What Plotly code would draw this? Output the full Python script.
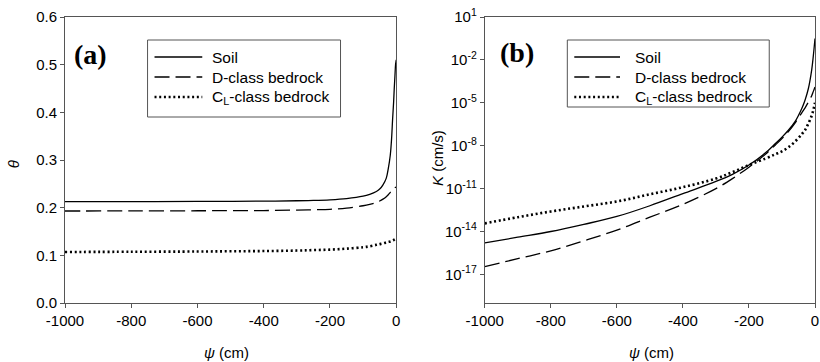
import plotly.graph_objects as go

# ---------------- data ----------------
series_names = ["Soil", "D-class bedrock", "C<sub>L</sub>-class bedrock"]

# panel (a): water content vs. suction head
psi_a = [-1000, -800, -600, -500, -400, -300, -250, -200, -150, -100, -80, -60,
         -50, -40, -30, -24, -18, -14, -11, -8, -6, -4, -2, 0]
theta_soil = [0.2125, 0.2127, 0.2130, 0.2133, 0.2137, 0.2145, 0.2152, 0.2165, 0.2190,
              0.2240, 0.2280, 0.2340, 0.2390, 0.2480, 0.2620, 0.2820, 0.3100, 0.3450,
              0.3850, 0.4200, 0.4500, 0.4750, 0.5000, 0.5100]
theta_d = [0.1930, 0.1932, 0.1935, 0.1938, 0.1940, 0.1950, 0.1957, 0.1966, 0.1990,
           0.2040, 0.2070, 0.2110, 0.2140, 0.2180, 0.2230, 0.2270, 0.2320, 0.2350,
           0.2380, 0.2400, 0.2415, 0.2422, 0.2428, 0.2430]
theta_cl = [0.1070, 0.1075, 0.1080, 0.1085, 0.1090, 0.1100, 0.1110, 0.1120, 0.1140,
            0.1170, 0.1190, 0.1220, 0.1235, 0.1250, 0.1270, 0.1280, 0.1290, 0.1300,
            0.1310, 0.1320, 0.1330, 0.1338, 0.1345, 0.1350]

# panel (b): hydraulic conductivity (log10 of K in cm/s) vs. suction head
psi_b = [-1000, -900, -800, -700, -600, -500, -400, -300, -250, -200, -150, -120,
         -100, -80, -60, -40, -30, -20, -10, -5, 0]
log10K_soil = [-14.8, -14.4, -14.0, -13.5, -12.95, -12.2, -11.35, -10.5, -10.0, -9.35,
               -8.5, -7.85, -7.4, -6.9, -6.3, -5.4, -4.8, -4.0, -2.7, -1.7, -0.5]
log10K_d = [-16.46, -15.9, -15.35, -14.65, -13.9, -13.0, -12.1, -11.0, -10.3, -9.5,
            -8.6, -7.95, -7.5, -7.0, -6.4, -5.7, -5.35, -4.95, -4.5, -4.2, -3.9]
log10K_cl = [-13.43, -13.0, -12.6, -12.25, -11.9, -11.4, -10.9, -10.3, -9.85, -9.35,
             -8.9, -8.6, -8.4, -8.1, -7.7, -7.2, -6.9, -6.45, -5.9, -5.5, -5.0]

# tick labels
x_tickvals = [-1000, -800, -600, -400, -200, 0]
x_ticktext = ["-1000", "-800", "-600", "-400", "-200", "0"]
theta_tickvals = [0.0, 0.1, 0.2, 0.3, 0.4, 0.5, 0.6]
theta_ticktext = ["0.0", "0.1", "0.2", "0.3", "0.4", "0.5", "0.6"]
K_exponents = [1, -2, -5, -8, -11, -14, -17]

# ---------------- styling ----------------
FONT = "Arial, Liberation Sans, sans-serif"
AXC = "#555555"
W, H = 820, 362
L, R, T, B = 65, 1, 17, 59
PW, PH = W - L - R, H - T - B

def px(x):
    return (x - L) / PW

def py(y):
    return 1 - (y - T) / PH

styles = [dict(color="black", width=1.3, dash="solid"),
          dict(color="black", width=1.3, dash="15px,6px"),
          dict(color="black", width=2.6, dash="2px,2.7px")]

fig = go.Figure()
for ys, st, nm in zip([theta_soil, theta_d, theta_cl], styles, series_names):
    fig.add_trace(go.Scatter(x=psi_a, y=ys, mode="lines", line=st, name=nm,
                             showlegend=False, xaxis="x", yaxis="y",
                             line_shape="spline"))
for ys, st, nm in zip([log10K_soil, log10K_d, log10K_cl], styles, series_names):
    fig.add_trace(go.Scatter(x=psi_b, y=[10 ** v for v in ys], mode="lines", line=st,
                             name=nm, showlegend=False, xaxis="x2", yaxis="y2",
                             line_shape="spline"))

axis_common = dict(showline=True, linecolor=AXC, linewidth=1, mirror=True,
                   ticks="outside", ticklen=4, tickcolor=AXC, showgrid=False,
                   zeroline=False, tickfont=dict(family=FONT, size=15, color="black"))

fig.update_layout(
    width=W, height=H, margin=dict(l=L, r=R, t=T, b=B),
    paper_bgcolor="white", plot_bgcolor="white",
    font=dict(family=FONT, size=15, color="black"),
    xaxis=dict(domain=[0, px(398)], range=[-1000, 0], tickvals=x_tickvals,
               ticktext=x_ticktext, anchor="y", **axis_common),
    yaxis=dict(domain=[0, 1], range=[0, 0.6], tickvals=theta_tickvals,
               ticktext=theta_ticktext, anchor="x", **axis_common),
    xaxis2=dict(domain=[px(487), 1], range=[-1000, 0], tickvals=x_tickvals,
                ticktext=x_ticktext, anchor="y2", **axis_common),
    yaxis2=dict(domain=[0, 1], type="log", range=[-19, 1],
                tickvals=[10.0 ** e for e in K_exponents],
                ticktext=["10<sup>%d</sup>" % e for e in K_exponents],
                anchor="x2", **axis_common),
)

shapes = []
annotations = []

def legend(box, line_x0, line_x1, text_x, rows_y):
    x0, y0, x1, y1 = box
    shapes.append(dict(type="rect", xref="paper", yref="paper",
                       x0=px(x0), x1=px(x1), y0=py(y1), y1=py(y0),
                       line=dict(color=AXC, width=1), fillcolor="white"))
    for st, nm, ry in zip(styles, series_names, rows_y):
        shapes.append(dict(type="line", xref="paper", yref="paper",
                           x0=px(line_x0), x1=px(line_x1), y0=py(ry), y1=py(ry),
                           line=st))
        annotations.append(dict(xref="paper", yref="paper", x=px(text_x), y=py(ry),
                                text=nm, showarrow=False, xanchor="left",
                                yanchor="middle",
                                font=dict(family=FONT, size=15.5, color="black")))

legend((148, 40, 342, 117), 155, 203, 211, (57, 77, 97))
legend((570, 40, 773, 107), 577, 623, 636, (57, 77, 97))

def label(x, y, text, size=15, angle=0, family=FONT):
    annotations.append(dict(xref="paper", yref="paper", x=px(x), y=py(y), text=text,
                            showarrow=False, xanchor="center", yanchor="middle",
                            textangle=angle,
                            font=dict(family=family, size=size, color="black")))

label(91, 54, "<b>(a)</b>", size=28, family="Times New Roman, Liberation Serif, serif")
label(519, 53, "<b>(b)</b>", size=28, family="Times New Roman, Liberation Serif, serif")
label(13, 164, "<i>θ</i>", size=15, angle=-90)
label(439, 158, "<i>K</i> (cm/s)", size=15, angle=-90)
label(227, 352, "<i>ψ</i> (cm)", size=15)
label(655, 352, "<i>ψ</i> (cm)", size=15)

fig.update_layout(shapes=shapes, annotations=annotations)
fig.write_html("out.html", config={"displayModeBar": False},
               post_script="document.body.style.margin='0px';"
                           "document.body.style.overflow='hidden';")
